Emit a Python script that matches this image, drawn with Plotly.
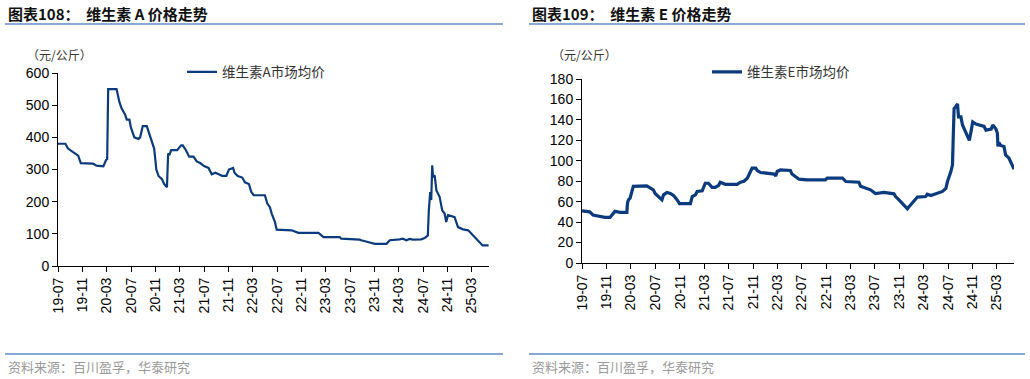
import plotly.graph_objects as go

# ---------------- Data ----------------
va_dates = [
    "2019-07-01", "2019-08-07", "2019-08-20", "2019-09-06", "2019-09-23", "2019-10-10", "2019-10-23",
    "2019-12-24", "2020-01-10", "2020-02-13", "2020-02-27", "2020-03-03", "2020-03-08", "2020-04-19",
    "2020-05-03", "2020-05-14", "2020-06-01", "2020-06-09", "2020-06-22", "2020-06-30", "2020-07-17",
    "2020-08-06", "2020-08-15", "2020-08-28", "2020-09-17", "2020-09-29", "2020-10-12", "2020-10-24",
    "2020-11-04", "2020-11-15", "2020-12-02", "2020-12-13", "2020-12-27", "2021-01-02", "2021-01-08",
    "2021-01-17", "2021-02-16", "2021-03-08", "2021-03-16", "2021-04-01", "2021-04-17", "2021-05-09",
    "2021-05-25", "2021-06-11", "2021-07-03", "2021-07-23", "2021-08-08", "2021-08-26", "2021-09-12",
    "2021-09-29", "2021-10-20", "2021-11-02", "2021-11-23", "2021-11-30", "2021-12-16", "2022-01-08",
    "2022-01-21", "2022-02-10", "2022-02-22", "2022-03-06", "2022-05-01", "2022-05-13", "2022-05-26",
    "2022-06-04", "2022-06-20", "2022-06-29", "2022-09-12", "2022-10-15", "2023-01-24", "2023-02-18",
    "2023-05-10", "2023-05-18", "2023-08-18", "2023-08-26", "2023-10-07", "2023-11-02", "2023-12-30",
    "2024-01-16", "2024-03-05", "2024-03-21", "2024-04-08", "2024-04-24", "2024-05-10", "2024-06-21",
    "2024-07-08", "2024-07-24", "2024-07-29", "2024-08-05", "2024-08-10", "2024-08-15", "2024-08-19",
    "2024-08-27", "2024-09-05", "2024-09-21", "2024-10-04", "2024-10-16", "2024-10-24", "2024-11-02",
    "2024-11-19", "2024-12-05", "2024-12-22", "2025-01-16", "2025-02-11", "2025-02-27", "2025-03-22",
    "2025-04-16", "2025-04-24", "2025-05-24",
]
va_values = [
    380, 380, 365, 358, 350, 343, 320,
    318, 312, 310, 330, 332, 550, 550,
    510, 490, 470, 455, 455, 430, 400,
    395, 400, 435, 435, 410, 390, 365,
    300, 280, 270, 255, 245, 350, 345,
    360, 360, 375, 375, 360, 340, 340,
    325, 320, 310, 305, 285, 290, 285,
    280, 280, 300, 305, 290, 280, 275,
    260, 255, 230, 220, 220, 194, 183,
    163, 137, 113, 111, 103, 103, 90,
    90, 85, 82, 80, 73, 69, 69,
    80, 83, 85, 80, 84, 82, 83,
    87, 95, 173, 230, 205, 313, 277,
    282, 235, 215, 173, 163, 137, 158,
    155, 152, 121, 114, 111, 101, 85,
    69, 64, 64,
]

ve_dates = [
    "2019-07-01", "2019-08-08", "2019-08-25", "2019-09-28", "2019-10-23", "2019-11-18", "2019-12-04",
    "2019-12-12", "2020-01-07", "2020-02-10", "2020-02-13", "2020-02-18", "2020-02-26", "2020-03-04",
    "2020-03-13", "2020-05-19", "2020-06-05", "2020-06-21", "2020-06-30", "2020-07-16", "2020-08-03",
    "2020-08-11", "2020-08-28", "2020-09-14", "2020-09-30", "2020-10-17", "2020-10-30", "2020-12-23",
    "2021-01-01", "2021-01-17", "2021-01-26", "2021-02-20", "2021-02-28", "2021-03-07", "2021-03-23",
    "2021-04-10", "2021-04-26", "2021-05-13", "2021-05-21", "2021-06-07", "2021-06-15", "2021-08-13",
    "2021-08-30", "2021-09-16", "2021-10-03", "2021-10-19", "2021-10-27", "2021-11-14", "2021-11-22",
    "2021-12-08", "2021-12-25", "2022-02-14", "2022-02-22", "2022-03-01", "2022-03-17", "2022-05-06",
    "2022-05-14", "2022-06-01", "2022-06-18", "2022-07-28", "2022-10-28", "2022-11-06", "2023-01-21",
    "2023-02-07", "2023-04-13", "2023-04-21", "2023-05-16", "2023-06-10", "2023-07-05", "2023-08-16",
    "2023-10-05", "2023-10-13", "2023-10-30", "2023-11-16", "2023-12-03", "2023-12-11", "2023-12-19",
    "2024-01-06", "2024-01-22", "2024-01-30", "2024-03-11", "2024-03-19", "2024-04-06", "2024-04-30",
    "2024-06-03", "2024-06-20", "2024-06-28", "2024-07-15", "2024-07-23", "2024-07-27", "2024-07-31",
    "2024-08-09", "2024-08-17", "2024-08-22", "2024-09-03", "2024-09-11", "2024-09-28", "2024-10-06",
    "2024-10-15", "2024-10-23", "2024-11-01", "2024-11-17", "2024-12-12", "2024-12-28", "2025-01-06",
    "2025-02-01", "2025-02-09", "2025-02-25", "2025-03-04", "2025-03-07", "2025-03-12", "2025-03-20",
    "2025-04-06", "2025-04-14", "2025-05-01", "2025-05-18", "2025-05-26",
]
ve_values = [
    51, 50, 47, 45.6, 44.6, 44.6, 48.8,
    50.5, 49.5, 49.5, 58.6, 61.8, 63.5, 68,
    75, 75.5, 73, 71.6, 68, 65, 61.8,
    66.7, 69, 68, 66, 62, 58, 58,
    65, 66.7, 70, 70.6, 75, 78, 78,
    74, 74, 76, 79, 78, 77, 77,
    79, 80, 83, 89.5, 92.8, 92.8, 90.5,
    88.5, 88, 87, 85, 89.5, 91, 90.5,
    87, 84, 82, 81.4, 81.4, 83, 83,
    79.7, 79, 75, 73, 71.6, 68, 69,
    67.7, 65, 61.8, 58, 53.7, 53, 55,
    58.6, 61.8, 64.5, 65, 67.4, 66, 68,
    70, 73, 79.7, 89.5, 96, 125, 151,
    153, 155.6, 143, 143, 135, 128, 125,
    120, 128, 138, 136, 135, 133.6, 130,
    131, 135, 131, 127, 114, 117.8, 115,
    114, 105.8, 102.5, 94, 91.8,
]

titles = ["图表108：  维生素 A 价格走势", "图表109：  维生素 E 价格走势"]
series_names = ["维生素A市场均价", "维生素E市场均价"]
unit_label = "（元/公斤）"
source_text = "资料来源：百川盈孚，华泰研究"

# ---------------- Figure ----------------
W, H = 1030, 379
LINE = "#0B3B7D"
ACCENT = "#5F8DC4"
FONT = "Liberation Sans, Arial, Noto Sans CJK SC, sans-serif"
CJK = "Noto Sans CJK SC, sans-serif"

def px(x):
    return x / W

def py(y):
    return 1 - y / H

fig = go.Figure()
fig.add_trace(go.Scatter(x=va_dates, y=va_values, mode="lines", name=series_names[0],
                         line=dict(color=LINE, width=2.2), xaxis="x", yaxis="y", legend="legend"))
fig.add_trace(go.Scatter(x=ve_dates, y=ve_values, mode="lines", name=series_names[1],
                         line=dict(color=LINE, width=3.2), xaxis="x2", yaxis="y2", legend="legend2"))

xcommon = dict(type="date", tick0="2019-07-01", dtick="M4", tickformat="%y-%m", tickangle=-90,
               showline=True, linecolor="#000000", linewidth=1, ticks="outside", ticklen=5,
               tickcolor="#000000", showgrid=False, zeroline=False, automargin=False,
               tickfont=dict(family=FONT, size=14, color="#000000"),
               range=["2019-07-01", "2025-05-26"], fixedrange=True)
ycommon = dict(showline=True, linecolor="#000000", linewidth=1, ticks="outside", ticklen=5,
               tickcolor="#000000", showgrid=False, zeroline=False, automargin=False,
               tickfont=dict(family=FONT, size=14, color="#000000"), fixedrange=True)

fig.update_layout(
    template="none",
    width=W, height=H, margin=dict(l=0, r=0, t=0, b=0, pad=0, autoexpand=False),
    paper_bgcolor="white", plot_bgcolor="white", showlegend=True,
    xaxis=dict(domain=[px(58), px(489)], anchor="y", **xcommon),
    yaxis=dict(domain=[py(266), py(73)], anchor="x", range=[0, 600], dtick=100, **ycommon),
    xaxis2=dict(domain=[px(582), px(1014)], anchor="y2", **xcommon),
    yaxis2=dict(domain=[py(263), py(79)], anchor="x2", range=[0, 180], dtick=20, **ycommon),
    legend=dict(x=px(182), y=py(72), xanchor="left", yanchor="middle",
                font=dict(family=CJK, size=13.5, color="#333333"), bgcolor="rgba(0,0,0,0)"),
    legend2=dict(x=px(707), y=py(72), xanchor="left", yanchor="middle",
                 font=dict(family=CJK, size=13.5, color="#333333"), bgcolor="rgba(0,0,0,0)"),
)

# Title texts and rule lines
for i, (x0, x1) in enumerate([(5, 503), (529, 1025)]):
    fig.add_annotation(x=px(x0 + 1), y=py(14), xref="paper", yref="paper", xanchor="left",
                       yanchor="middle", showarrow=False, text="<b>" + titles[i] + "</b>",
                       font=dict(family=CJK, size=15, color="#111111"))
    fig.add_shape(type="line", xref="paper", yref="paper", x0=px(x0), x1=px(x1),
                  y0=py(24), y1=py(24), line=dict(color=ACCENT, width=1.5))
    fig.add_shape(type="line", xref="paper", yref="paper", x0=px(x0), x1=px(x1),
                  y0=py(354), y1=py(354), line=dict(color=ACCENT, width=1.5))
    fig.add_annotation(x=px(x0 + 1), y=py(366), xref="paper", yref="paper", xanchor="left",
                       yanchor="middle", showarrow=False, text=source_text,
                       font=dict(family=CJK, size=13, color="#9a9a9a"))

# Unit labels
for xu in (25, 550):
    fig.add_annotation(x=px(xu), y=py(55), xref="paper", yref="paper", xanchor="left",
                       yanchor="middle", showarrow=False, text=unit_label,
                       font=dict(family=CJK, size=12, color="#333333"))

fig.write_html("out.html", config={"displayModeBar": False},
               post_script="document.body.style.margin='0';document.body.style.overflow='hidden';")
